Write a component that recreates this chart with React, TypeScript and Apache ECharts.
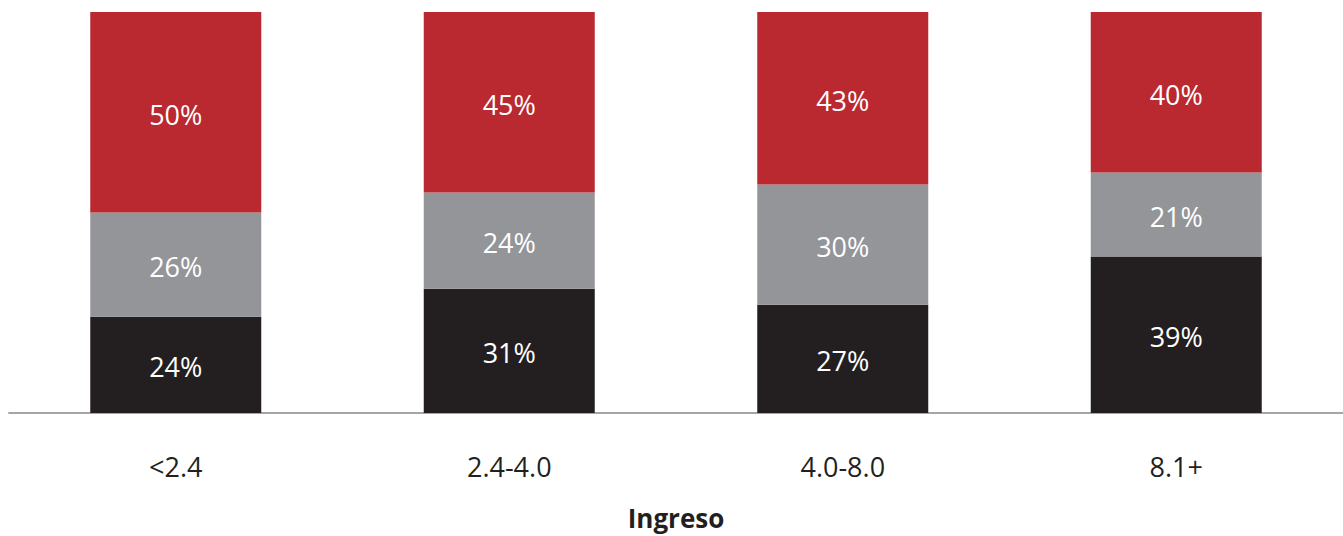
import React, { useEffect, useRef } from "react";
import * as echarts from "echarts";

const categories = ["<2.4", "2.4-4.0", "4.0-8.0", "8.1+"];
const bottomValues = [24, 31, 27, 39];
const middleValues = [26, 24, 30, 21];
const topValues = [50, 45, 43, 40];
const axisTitle = "Ingreso";

const FONT = "'Open Sans', sans-serif";

export default function App() {
  const ref = useRef<HTMLDivElement>(null);
  useEffect(() => {
    if (!ref.current) return;
    const chart = echarts.init(ref.current, undefined, { renderer: "svg" });
    const label = {
      show: true,
      position: "inside",
      offset: [0, 2],
      color: "#ffffff",
      fontSize: 27,
      fontFamily: FONT,
      formatter: (p: any) => `${p.value}%`,
    };
    const mk = (name: string, data: number[], color: string) => ({
      name,
      type: "bar",
      stack: "total",
      data,
      barWidth: 171,
      itemStyle: { color },
      label,
    });
    chart.setOption({
      animation: false,
      grid: { left: 9, right: 0, top: 12, bottom: 120, containLabel: false },
      xAxis: {
        type: "category",
        data: categories,
        axisLine: { show: true, lineStyle: { color: "#a6a6a6", width: 2 } },
        axisTick: { show: false },
        axisLabel: { fontSize: 27, color: "#231f20", fontFamily: FONT, margin: 40 },
        name: axisTitle,
        nameLocation: "middle",
        nameGap: 92,
        nameTextStyle: { fontSize: 26, fontWeight: "bold", color: "#231f20", fontFamily: FONT },
      },
      yAxis: { type: "value", min: 0, max: 100, show: false },
      series: [
        mk("bottom", bottomValues, "#231f20"),
        mk("middle", middleValues, "#939598"),
        mk("top", topValues, "#ba2830"),
      ],
    });
    return () => chart.dispose();
  }, []);
  return (
    <div
      ref={ref}
      style={{ position: "absolute", left: 0, top: 0, width: 1343, height: 536 }}
    />
  );
}
